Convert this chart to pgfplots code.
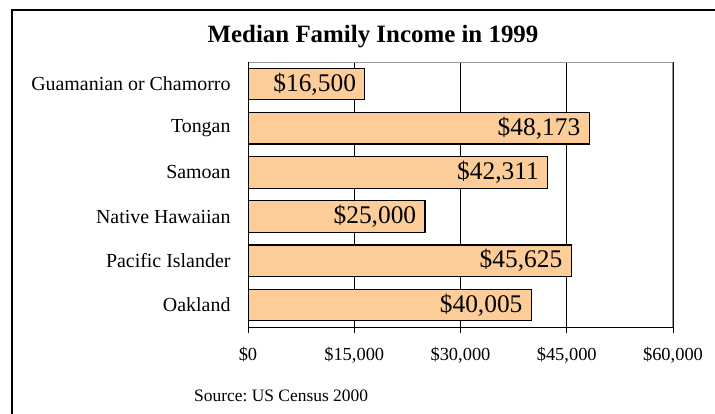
\documentclass[border=0pt]{standalone}
\usepackage{fontspec}
\setmainfont{Liberation Serif}
\usepackage{pgfplots}
\pgfplotsset{compat=1.18}
\definecolor{barfill}{RGB}{252,204,153}
\definecolor{borderg}{RGB}{150,150,150}
\frenchspacing
\begin{document}
\begin{tikzpicture}
\useasboundingbox (0,0) rectangle (715bp,-414bp);
\fill[white] (0,0) rectangle (715bp,-414bp);
\draw[line width=1.1bp] (12bp,-430bp) -- (12bp,-10bp) -- (730bp,-10bp);
\node[anchor=base, font=\fontsize{25}{25}\selectfont\bfseries] at (373bp,-42.3bp) {Median Family Income in 1999};
\node[anchor=base west, inner sep=0pt, font=\fontsize{17.5}{17.5}\selectfont] at (194bp,-401.7bp) {Source: US Census 2000};
\begin{axis}[
  at={(248bp,-327bp)}, anchor=south west,
  width=425bp, height=265bp, scale only axis,
  xbar, bar width=31.5bp,
  xmin=0, xmax=60000, ymin=-0.5, ymax=5.5,
  xtick={0,15000,30000,45000,60000},
  xticklabels={{\$0},{\$15,000},{\$30,000},{\$45,000},{\$60,000}},
  ytick={0,1,2,3,4,5},
  yticklabels={Oakland,Pacific Islander,Native Hawaiian,Samoan,Tongan,Guamanian or Chamorro},
  xtick pos=bottom, tick align=outside,
  major tick length=6bp,
  xtick style={black, line width=0.8bp},
  ytick style={draw=none},
  xticklabel style={font=\fontsize{18.5}{18.5}\selectfont, yshift=-11bp},
  yticklabel style={font=\fontsize{20}{20}\selectfont, xshift=-8bp},
  scaled x ticks=false,
  xmajorgrids, major grid style={black, line width=0.8bp},
  axis line style={draw=none},
  point meta=x,
  nodes near coords={\$\pgfmathprintnumber[fixed, precision=0, 1000 sep={,}, assume math mode=true]{\pgfplotspointmeta}},
  nodes near coords style={anchor=east, xshift=-5bp, font=\fontsize{25.5}{25.5}\selectfont, text=black},
]
\addplot[fill=barfill, draw=black, line width=1.2bp] coordinates {
  (40005,0) (45625,1) (25000,2) (42311,3) (48173,4) (16500,5)
};
\draw[borderg, line width=1.6bp] (rel axis cs:0,1) -- (rel axis cs:1,1) -- (rel axis cs:1,0);
\draw[black, line width=1bp] (rel axis cs:0,1) -- (rel axis cs:0,0) -- (rel axis cs:1,0);
\end{axis}
\end{tikzpicture}
\end{document}
